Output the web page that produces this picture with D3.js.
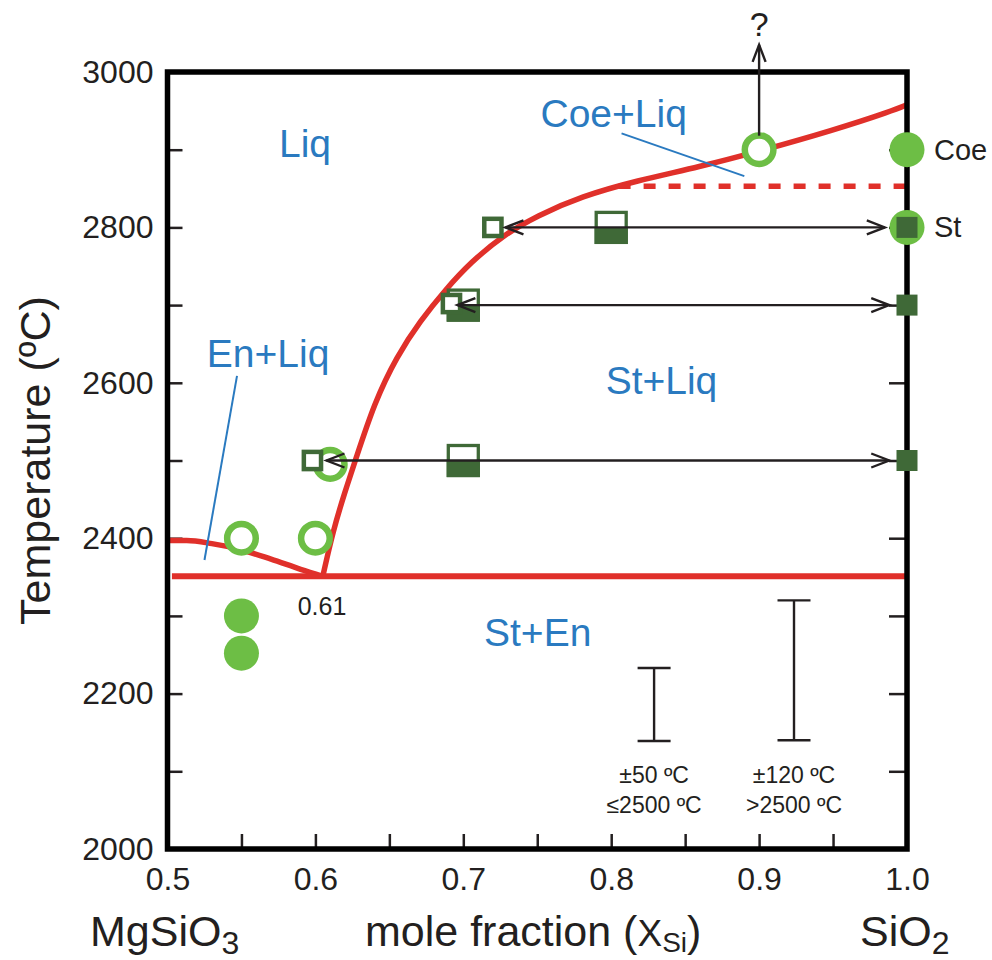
<!DOCTYPE html>
<html>
<head>
<meta charset="utf-8">
<script src="https://cdn.jsdelivr.net/npm/d3@7"></script>
<style>
  body { margin: 0; background: #fff; }
  text { font-family: "Liberation Sans", Arial, sans-serif; }
</style>
</head>
<body>
<div id="chart"></div>
<script>
// --- data (x = mole fraction X_Si, T in ºC) ---
const enLiqX = [0.5, 0.513, 0.53, 0.548, 0.57, 0.59, 0.605];
const enLiqT = [2397, 2397, 2393, 2386, 2373, 2360, 2351];
const stLiqX = [0.605, 0.612, 0.62, 0.627, 0.64, 0.655, 0.671, 0.688, 0.705, 0.727, 0.75, 0.78, 0.817, 0.86, 0.9, 0.95, 0.99, 1.0];
const stLiqT = [2351, 2410, 2460, 2500, 2575, 2634, 2680, 2720, 2755, 2790, 2815, 2840, 2860, 2878, 2898, 2925, 2950, 2958];
const eutecticX = [0.503, 1.0];
const eutecticT = 2351;
const coeStX = [0.805, 1.0];
const coeStT = 2853;

const openCircleX = [0.55, 0.6, 0.61, 0.9];
const openCircleT = [2400, 2400, 2495, 2900];
const fullCircleX = [0.55, 0.55, 1.0, 1.0];
const fullCircleT = [2300, 2252, 2900, 2800];
const halfSquareX = [0.8, 0.7, 0.7];
const halfSquareT = [2800, 2700, 2500];
const smallSquareX = [0.72, 0.692, 0.598];
const smallSquareT = [2800, 2702, 2500];
const stSquareX = [1.0, 1.0, 1.0];
const stSquareT = [2800, 2700, 2500];

const arrowT = [2800, 2700, 2500];
const arrowFrom = [0.7285, 0.696, 0.6075];
const arrowTo = [0.985, 0.988, 0.988];
const qArrowX = 0.9, qArrowFromT = 2918, qArrowToT = 3035;

const regionNames = ["Liq", "Coe+Liq", "En+Liq", "St+Liq", "St+En"];
const regionX = [0.593, 0.8017, 0.568, 0.834, 0.7503];
const regionT = [2890, 2929, 2620, 2586, 2261];
const leaderX1 = [0.807, 0.547], leaderT1 = [2921, 2609];
const leaderX2 = [0.890, 0.525], leaderT2 = [2866, 2372];

const errX = [0.829, 0.9236];
const errLow = [2139, 2140];
const errHigh = [2233, 2320];
const errLine1 = ["±50 ºC", "±120 ºC"];
const errLine2 = ["≤2500 ºC", ">2500 ºC"];

const xLabelTicks = [0.5, 0.6, 0.7, 0.8, 0.9, 1.0];
const xMinorTicks = [0.55, 0.6, 0.65, 0.7, 0.75, 0.8, 0.85, 0.9, 0.95];
const yLabelTicks = [2000, 2200, 2400, 2600, 2800, 3000];
const yMinorTicks = [2100, 2200, 2300, 2400, 2500, 2600, 2700, 2800, 2900];

// --- colours ---
const RED = "#e0302a", LGREEN = "#6dbe45", DGREEN = "#3f6937", BLUE = "#2a7ac0", INK = "#231f20";

const W = 992, H = 960;
const svg = d3.select("#chart").append("svg")
    .attr("width", W).attr("height", H)
    .style("background", "#fff");

const x = d3.scaleLinear().domain([0.5, 1.0]).range([167.5, 907]);
const y = d3.scaleLinear().domain([2000, 3000]).range([849, 72]);

// ticks (inside)
const tickStyle = g => {
    g.select(".domain").remove();
    g.selectAll(".tick line").attr("stroke", INK).attr("stroke-width", 2.5);
};
svg.append("g").attr("transform", `translate(${x(0.5)},0)`)
    .call(d3.axisLeft(y).tickValues(yMinorTicks).tickSize(-15).tickFormat(""))
    .call(tickStyle);
svg.append("g").attr("transform", `translate(${x(1.0)},0)`)
    .call(d3.axisRight(y).tickValues(yMinorTicks).tickSize(-18).tickFormat(""))
    .call(tickStyle);
svg.append("g").attr("transform", `translate(0,${y(2000)})`)
    .call(d3.axisBottom(x).tickValues(xMinorTicks).tickSize(-15).tickFormat(""))
    .call(tickStyle);

// tick labels
const labelStyle = g => {
    g.select(".domain").remove();
    g.selectAll(".tick text").attr("fill", INK).style("font-size", "32px")
        .style("font-family", "'Liberation Sans', Arial, sans-serif");
};
svg.append("g").attr("transform", `translate(${x(0.5)},0)`)
    .call(d3.axisLeft(y).tickValues(yLabelTicks).tickSize(0).tickPadding(14).tickFormat(d3.format("d")))
    .call(labelStyle);
svg.append("g").attr("transform", `translate(0,${y(2000)})`)
    .call(d3.axisBottom(x).tickValues(xLabelTicks).tickSize(0).tickPadding(18).tickFormat(d3.format(".1f")))
    .call(labelStyle);

// phase boundaries
const line = d3.line().x(d => x(d[0])).y(d => y(d[1])).curve(d3.curveMonotoneX);
const smooth = d3.line().x(d => x(d[0])).y(d => y(d[1])).curve(d3.curveBasis);
svg.append("path").attr("d", line(d3.zip(enLiqX, enLiqT)))
    .attr("fill", "none").attr("stroke", RED).attr("stroke-width", 5.5);
svg.append("path").attr("d", smooth(d3.zip(stLiqX, stLiqT)))
    .attr("fill", "none").attr("stroke", RED).attr("stroke-width", 5.5);
svg.append("line")
    .attr("x1", x(eutecticX[0])).attr("x2", x(eutecticX[1]))
    .attr("y1", y(eutecticT)).attr("y2", y(eutecticT))
    .attr("stroke", RED).attr("stroke-width", 6);
svg.append("line")
    .attr("x1", x(coeStX[0])).attr("x2", x(coeStX[1]))
    .attr("y1", y(coeStT)).attr("y2", y(coeStT))
    .attr("stroke", RED).attr("stroke-width", 5.5).attr("stroke-dasharray", "12 13");

// frame
svg.append("rect")
    .attr("x", x(0.5)).attr("y", y(3000))
    .attr("width", x(1.0) - x(0.5)).attr("height", y(2000) - y(3000))
    .attr("fill", "none").attr("stroke", "#000").attr("stroke-width", 5.5);

// region labels + leaders
svg.append("g").selectAll("text")
    .data(regionNames)
    .join("text")
    .attr("x", (d, i) => x(regionX[i])).attr("y", (d, i) => y(regionT[i]))
    .attr("text-anchor", "middle").attr("fill", BLUE)
    .style("font-size", "39px")
    .text(d => d);
svg.append("g").selectAll("line")
    .data(leaderX1)
    .join("line")
    .attr("x1", (d, i) => x(leaderX1[i])).attr("y1", (d, i) => y(leaderT1[i]))
    .attr("x2", (d, i) => x(leaderX2[i])).attr("y2", (d, i) => y(leaderT2[i]))
    .attr("stroke", BLUE).attr("stroke-width", 2);

svg.append("text").attr("x", x(0.6045)).attr("y", y(2301))
    .attr("text-anchor", "middle").attr("fill", INK).style("font-size", "25px").text("0.61");

// markers
svg.append("g").selectAll("circle")
    .data(fullCircleX)
    .join("circle")
    .attr("cx", d => x(d)).attr("cy", (d, i) => y(fullCircleT[i]))
    .attr("r", 17.5).attr("fill", LGREEN);

svg.append("g").selectAll("circle")
    .data(openCircleX)
    .join("circle")
    .attr("cx", d => x(d)).attr("cy", (d, i) => y(openCircleT[i]))
    .attr("r", 14.3).attr("fill", "#fff").attr("stroke", LGREEN).attr("stroke-width", 6.5);

const half = svg.append("g").selectAll("g")
    .data(halfSquareX)
    .join("g")
    .attr("transform", (d, i) => `translate(${x(d)},${y(halfSquareT[i])})`);
half.append("rect").attr("x", -15).attr("y", -15).attr("width", 30).attr("height", 30)
    .attr("fill", "#fff").attr("stroke", DGREEN).attr("stroke-width", 3.3);
half.append("rect").attr("x", -16.6).attr("y", 0).attr("width", 33.2).attr("height", 16.6)
    .attr("fill", DGREEN);

svg.append("g").selectAll("rect")
    .data(smallSquareX)
    .join("rect")
    .attr("x", d => x(d) - 8.6).attr("y", (d, i) => y(smallSquareT[i]) - 8.6)
    .attr("width", 17.2).attr("height", 17.2)
    .attr("fill", "#fff").attr("stroke", DGREEN).attr("stroke-width", 4.5);

svg.append("g").selectAll("rect")
    .data(stSquareX)
    .join("rect")
    .attr("x", d => x(d) - 10.5).attr("y", (d, i) => y(stSquareT[i]) - 10.5)
    .attr("width", 21).attr("height", 21).attr("fill", DGREEN);

// arrows
const arrows = svg.append("g").attr("stroke", INK).attr("stroke-width", 2.4).attr("fill", "none");
arrowT.forEach((t, i) => {
    const yy = y(t), xa = x(arrowFrom[i]), xb = x(arrowTo[i]);
    arrows.append("line").attr("x1", xa).attr("x2", xb).attr("y1", yy).attr("y2", yy);
    arrows.append("polyline").attr("points", [[xa + 18, yy - 7], [xa, yy], [xa + 18, yy + 7]].join(" "));
    arrows.append("polyline").attr("points", [[xb - 18, yy - 7], [xb, yy], [xb - 18, yy + 7]].join(" "));
});
{
    const xx = x(qArrowX), ya = y(qArrowFromT), yb = y(qArrowToT);
    arrows.append("line").attr("x1", xx).attr("x2", xx).attr("y1", ya).attr("y2", yb);
    arrows.append("polyline").attr("points", [[xx - 6.5, yb + 17], [xx, yb], [xx + 6.5, yb + 17]].join(" "));
    svg.append("text").attr("x", xx).attr("y", yb - 9)
        .attr("text-anchor", "middle").attr("fill", INK).style("font-size", "34px").text("?");
}

// error bars
const eb = svg.append("g").selectAll("g")
    .data(errX)
    .join("g")
    .attr("stroke", INK).attr("stroke-width", 2.4);
eb.append("line").attr("x1", d => x(d)).attr("x2", d => x(d))
    .attr("y1", (d, i) => y(errLow[i])).attr("y2", (d, i) => y(errHigh[i]));
eb.append("line").attr("x1", d => x(d) - 16.5).attr("x2", d => x(d) + 16.5)
    .attr("y1", (d, i) => y(errLow[i])).attr("y2", (d, i) => y(errLow[i]));
eb.append("line").attr("x1", d => x(d) - 16.5).attr("x2", d => x(d) + 16.5)
    .attr("y1", (d, i) => y(errHigh[i])).attr("y2", (d, i) => y(errHigh[i]));
svg.append("g").selectAll("text")
    .data(errX)
    .join("text")
    .attr("x", d => x(d)).attr("y", y(2000) - 66)
    .attr("text-anchor", "middle").attr("fill", INK).style("font-size", "23px")
    .text((d, i) => errLine1[i]);
svg.append("g").selectAll("text")
    .data(errX)
    .join("text")
    .attr("x", d => x(d)).attr("y", y(2000) - 36)
    .attr("text-anchor", "middle").attr("fill", INK).style("font-size", "23px")
    .text((d, i) => errLine2[i]);

// labels for end-member phases
svg.append("text").attr("x", x(1.0) + 27).attr("y", y(2900) + 10)
    .attr("fill", INK).style("font-size", "29px").text("Coe");
svg.append("text").attr("x", x(1.0) + 27).attr("y", y(2800) + 10)
    .attr("fill", INK).style("font-size", "29px").text("St");

// axis titles
const t1 = svg.append("text").attr("x", 90).attr("y", 946).attr("fill", INK).style("font-size", "43px");
t1.append("tspan").text("MgSiO");
t1.append("tspan").attr("dy", 8).style("font-size", "32px").text("3");

const t2 = svg.append("text").attr("x", 365).attr("y", 946).attr("fill", INK).style("font-size", "43px");
t2.append("tspan").text("mole fraction (");
t2.append("tspan").style("font-size", "37px").text("X");
t2.append("tspan").attr("dy", 6).style("font-size", "28px").text("Si");
t2.append("tspan").attr("dy", -6).text(")");

const t3 = svg.append("text").attr("x", 860).attr("y", 946).attr("fill", INK).style("font-size", "43px");
t3.append("tspan").text("SiO");
t3.append("tspan").attr("dy", 8).style("font-size", "32px").text("2");

svg.append("text")
    .attr("transform", `translate(50,${(y(2000) + y(3000)) / 2}) rotate(-90)`)
    .attr("text-anchor", "middle").attr("fill", INK).style("font-size", "43px")
    .text("Temperature (ºC)");
</script>
</body>
</html>
